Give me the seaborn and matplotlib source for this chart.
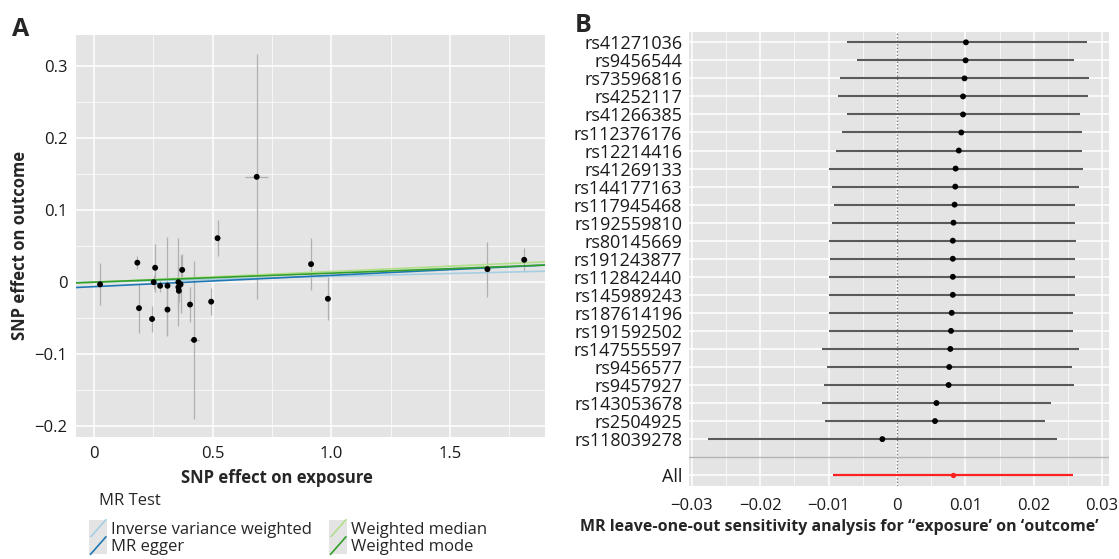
import numpy as np
import pandas as pd
import matplotlib
matplotlib.use("Agg")
import matplotlib.pyplot as plt
import seaborn as sns
from matplotlib.ticker import MultipleLocator
from matplotlib.legend_handler import HandlerBase
from matplotlib.lines import Line2D
from matplotlib.patches import Rectangle

# ---- panel A: SNP effects ----
exposure = [0.026, 0.183, 0.190, 0.245, 0.252, 0.258, 0.279, 0.310, 0.310, 0.356, 0.356,
            0.358, 0.365, 0.372, 0.405, 0.422, 0.494, 0.521, 0.686, 0.915, 0.986, 1.658, 1.813]
outcome = [-0.003, 0.027, -0.036, -0.051, 0.000, 0.020, -0.005, -0.005, -0.038, 0.000, -0.007,
           -0.012, -0.003, 0.017, -0.031, -0.080, -0.027, 0.061, 0.146, 0.025, -0.023, 0.018, 0.031]
se_outcome = [0.029, 0.009, 0.034, 0.018, 0.010, 0.033, 0.008, 0.068, 0.036, 0.061, 0.030,
              0.015, 0.040, 0.022, 0.024, 0.110, 0.019, 0.025, 0.170, 0.036, 0.030, 0.038, 0.016]
se_exposure = [0.004, 0.004, 0.004, 0.004, 0.004, 0.004, 0.004, 0.005, 0.005, 0.005, 0.005,
               0.005, 0.005, 0.005, 0.006, 0.020, 0.006, 0.006, 0.048, 0.008, 0.008, 0.010, 0.010]

methods = ["Inverse variance weighted", "MR egger", "Weighted median", "Weighted mode"]
slopes = [0.0080, 0.0157, 0.0148, 0.0125]
intercepts = [0.0, -0.0062, 0.0, 0.0]
method_colors = ["#A6CEE3", "#1F78B4", "#B2DF8A", "#33A02C"]

a_xticks = [0, 0.5, 1.0, 1.5]
a_xlabels = ["0", "0.5", "1.0", "1.5"]
a_yticks = [-0.2, -0.1, 0, 0.1, 0.2, 0.3]
a_ylabels = ["\u22120.2", "\u22120.1", "0", "0.1", "0.2", "0.3"]

# ---- panel B: leave-one-out ----
snps = ["rs41271036", "rs9456544", "rs73596816", "rs4252117", "rs41266385", "rs112376176",
        "rs12214416", "rs41269133", "rs144177163", "rs117945468", "rs192559810", "rs80145669",
        "rs191243877", "rs112842440", "rs145989243", "rs187614196", "rs191592502",
        "rs147555597", "rs9456577", "rs9457927", "rs143053678", "rs2504925", "rs118039278"]
loo_b = [0.01008, 0.01003, 0.00987, 0.00966, 0.00966, 0.00940, 0.00904, 0.00857, 0.00852,
         0.00842, 0.00826, 0.00816, 0.00816, 0.00816, 0.00816, 0.00800, 0.00790, 0.00780,
         0.00764, 0.00755, 0.00577, 0.00556, -0.00214]
loo_lo = [-0.00738, -0.00587, -0.00836, -0.00862, -0.00738, -0.00810, -0.00888, -0.00987,
          -0.00945, -0.00914, -0.00950, -0.00987, -0.00980, -0.00990, -0.00990, -0.00990,
          -0.01000, -0.01100, -0.01030, -0.01067, -0.01090, -0.01050, -0.02770]
loo_hi = [0.02780, 0.02590, 0.02805, 0.02800, 0.02670, 0.02700, 0.02710, 0.02720, 0.02660,
          0.02610, 0.02610, 0.02620, 0.02610, 0.02600, 0.02610, 0.02580, 0.02580, 0.02660,
          0.02560, 0.02583, 0.02250, 0.02170, 0.02340]
all_b, all_lo, all_hi = 0.0082, -0.00936, 0.0258
b_xticks = [-0.03, -0.02, -0.01, 0, 0.01, 0.02, 0.03]
b_xlabels = ["\u22120.03", "\u22120.02", "\u22120.01", "0", "0.01", "0.02", "0.03"]

sns.set_theme(style="darkgrid", rc={"axes.facecolor": "#E4E4E4", "grid.color": "white"})
plt.rcParams["font.family"] = ["Open Sans", "DejaVu Sans"]

W, H = 1119, 559
fig = plt.figure(figsize=(W / 100, H / 100), dpi=100)
fig.patch.set_facecolor("white")
axA = fig.add_axes([75.7 / W, 1 - 437.3 / H, 468.9 / W, 402.6 / H])
axB = fig.add_axes([689.3 / W, 1 - 486 / H, 419.7 / W, 454.5 / H])

fs = 12


def style_axes(ax):
    for s in ax.spines.values():
        s.set_visible(False)
    ax.grid(which="major", color="white", lw=1.1)
    ax.grid(which="minor", color="white", lw=0.5)
    ax.tick_params(which="major", length=3, width=0.8, color="#333333", pad=3,
                   labelsize=fs, labelcolor="#1a1a1a")
    ax.tick_params(which="minor", length=0)
    ax.set_axisbelow(True)


# panel A
dfA = pd.DataFrame({"exposure": exposure, "outcome": outcome,
                    "se_out": se_outcome, "se_exp": se_exposure})
axA.errorbar(dfA["exposure"], dfA["outcome"], yerr=dfA["se_out"], fmt="none",
             ecolor="#B0B0B0", elinewidth=0.9, capsize=0, zorder=2)
axA.errorbar(dfA["exposure"], dfA["outcome"], xerr=dfA["se_exp"], fmt="none",
             ecolor="#B0B0B0", elinewidth=0.9, capsize=0, zorder=2)
for m, b0, c in zip(slopes, intercepts, method_colors):
    axA.axline((0, b0), slope=m, color=c, lw=1.2, zorder=3)
sns.scatterplot(data=dfA, x="exposure", y="outcome", ax=axA, color="black", s=18,
                edgecolor="none", zorder=4)
axA.set_xlim(-0.0767, 1.899)
axA.set_ylim(-0.215, 0.343)
axA.set_xticks(a_xticks, a_xlabels)
axA.set_yticks(a_yticks, a_ylabels)
axA.xaxis.set_minor_locator(MultipleLocator(0.25))
axA.yaxis.set_minor_locator(MultipleLocator(0.05))
style_axes(axA)
axA.set_xlabel("")
axA.set_ylabel("")

fig.text(277 / W, 1 - 478.3 / H, "SNP effect on exposure", ha="center", va="center",
         fontsize=fs, fontweight="bold")
fig.text(20 / W, 1 - 245 / H, "SNP effect on outcome", ha="center", va="center",
         rotation=90, fontsize=fs, fontweight="bold")
fig.text(99 / W, 1 - 500.7 / H, "MR Test", ha="left", va="center", fontsize=fs)
fig.text(21 / W, 1 - 30 / H, "A", ha="center", va="center", fontsize=18, fontweight="bold")
fig.text(583 / W, 1 - 25 / H, "B", ha="center", va="center", fontsize=18, fontweight="bold")


class DiagHandler(HandlerBase):
    def create_artists(self, legend, orig_handle, xdescent, ydescent, width, height,
                       fontsize, trans):
        bg = Rectangle((-xdescent, -ydescent - 1), width, height + 2, facecolor="#E4E4E4",
                       edgecolor="none", transform=trans)
        ln = Line2D([-xdescent + 1, -xdescent + width - 1], [-ydescent - 1, -ydescent + height + 1],
                    color=orig_handle.get_color(), lw=1.2, transform=trans)
        return [bg, ln]


handles = [Line2D([], [], color=c) for c in method_colors]
fig.legend(handles, methods, loc="upper left", bbox_to_anchor=(89 / W, 1 - 521 / H), ncol=2,
           frameon=False, handler_map={Line2D: DiagHandler()}, handlelength=1.1,
           handleheight=1.0, handletextpad=0.2, labelspacing=0.0, columnspacing=1.05,
           borderpad=0, borderaxespad=0, fontsize=fs)

# panel B
dfB = pd.DataFrame({"snp": snps, "b": loo_b, "lo": loo_lo, "hi": loo_hi})
dfB["pos"] = np.arange(len(dfB))
all_pos = len(dfB) + 1
axB.axvline(0, color="#7a7a7a", ls=(0, (1, 1.5)), lw=1, zorder=2)
axB.axhline(len(dfB), color="#B5B5B5", lw=1, zorder=2)
axB.hlines(dfB["pos"], dfB["lo"], dfB["hi"], color="#5a5a5a", lw=1.5, zorder=3)
sns.scatterplot(data=dfB, x="b", y="pos", ax=axB, color="black", s=18, edgecolor="none",
                zorder=4)
axB.hlines([all_pos], [all_lo], [all_hi], color="#FF2020", lw=1.6, zorder=3)
axB.scatter([all_b], [all_pos], color="#FF2020", s=8, zorder=4)
axB.set_xlim(-0.03037, 0.0310)
axB.set_ylim(all_pos + 0.6, -0.6)
axB.set_xticks(b_xticks, b_xlabels)
axB.set_yticks(list(dfB["pos"]) + [all_pos], snps + ["All"])
axB.xaxis.set_minor_locator(MultipleLocator(0.005))
style_axes(axB)
axB.tick_params(axis="y", length=0, pad=5, labelsize=13)
axB.tick_params(axis="x", pad=6)
axB.set_xlabel("")
axB.set_ylabel("")
fig.text((581 + 1097) / 2 / W, 1 - 527 / H,
         "MR leave-one-out sensitivity analysis for \u201cexposure\u2019 on \u2018outcome\u2019",
         ha="center", va="center", fontsize=11.5, fontweight="bold")

fig.savefig("out.png", dpi=100)
